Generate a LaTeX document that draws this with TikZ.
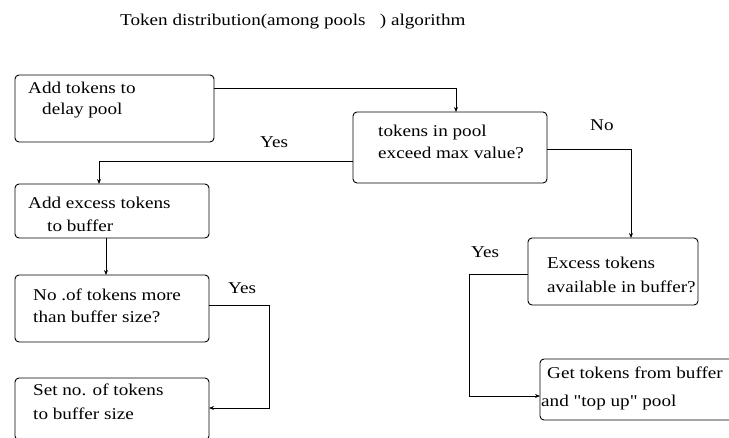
\documentclass[tikz,border=0pt]{standalone}
\usepackage{fontspec}
\setmainfont{Liberation Serif}[FakeStretch=1.16]
\newfontfamily\rawserif{Liberation Serif}[FakeStretch=1.16]
\usetikzlibrary{arrows.meta}
\begin{document}
\begin{tikzpicture}[x=1pt,y=-1pt,
  box/.style={draw,line width=0.9pt,rounded corners=4pt,inner sep=0pt,outer sep=0pt,rectangle},
  txt/.style={anchor=base west,inner sep=0pt,font=\fontsize{16.5}{20}\selectfont,text=black},
  arr/.style={line width=0.9pt,-{Stealth[length=5pt,width=4pt]}}]
\useasboundingbox (0,0) rectangle (729,437);
\clip (0,0) rectangle (729,437);
% title
\node[txt] (title) at (120,25) {Token distribution(among pools\ \ \ ) algorithm};
% boxes
\node[box,minimum width=199pt,minimum height=67pt] (b1) at (114.5,108.5) {};
\node[box,minimum width=194pt,minimum height=71pt] (d1) at (450,147.5) {};
\node[box,minimum width=194pt,minimum height=54pt] (b3) at (112,211) {};
\node[box,minimum width=194pt,minimum height=67pt] (b4) at (112,308.5) {};
\node[box,minimum width=194pt,minimum height=62pt] (b5) at (112,409) {};
\node[box,minimum width=170pt,minimum height=67pt] (b6) at (613,271.5) {};
\node[box,minimum width=200pt,minimum height=61pt] (b7) at (640,389.5) {};
% texts
\node[txt] (t1a) at (28,93) {Add tokens to};
\node[txt] (t1b) at (42,114) {delay pool};
\node[txt] (t2a) at (378,136) {tokens in pool};
\node[txt] (t2b) at (378,158) {exceed max value?};
\node[txt] (t3a) at (28,208) {Add excess tokens};
\node[txt] (t3b) at (47,231) {to buffer};
\node[txt] (t4a) at (33,300) {No .of tokens more};
\node[txt] (t4b) at (33,322) {than buffer size?};
\node[txt] (t5a) at (33,395) {Set no. of tokens};
\node[txt] (t5b) at (33,419) {to buffer size};
\node[txt] (t6a) at (547,268) {Excess tokens};
\node[txt] (t6b) at (547,292) {available in buffer?};
\node[txt] (t7a) at (547,378) {Get tokens from buffer};
\node[txt] (t7b) at (541,406) {\rawserif and "top up" pool};
% labels
\node[txt] (yes1) at (260,147) {Yes};
\node[txt] (yes2) at (228,293) {Yes};
\node[txt] (no1) at (590,130) {No};
\node[txt] (yes3) at (471,257) {Yes};
% connectors
\draw[arr] ([yshift=20.5pt]b1.east) -| ([xshift=6pt]d1.north);
\draw[arr] ([yshift=-13.5pt]d1.west) -| ([xshift=-13pt]b3.north);
\draw[arr] ([xshift=-6pt]b3.south) -- ([xshift=-6pt]b4.north);
\draw[arr] ([yshift=3.5pt]b4.east) -- ++(60,0) |- ([yshift=1pt]b5.east);
\draw[arr] ([yshift=-1.5pt]d1.east) -| ([xshift=18pt]b6.north);
\draw[arr] ([yshift=-2.5pt]b6.west) -- ++(-59,0) |- ([yshift=-6.5pt]b7.west);
\end{tikzpicture}
\end{document}
